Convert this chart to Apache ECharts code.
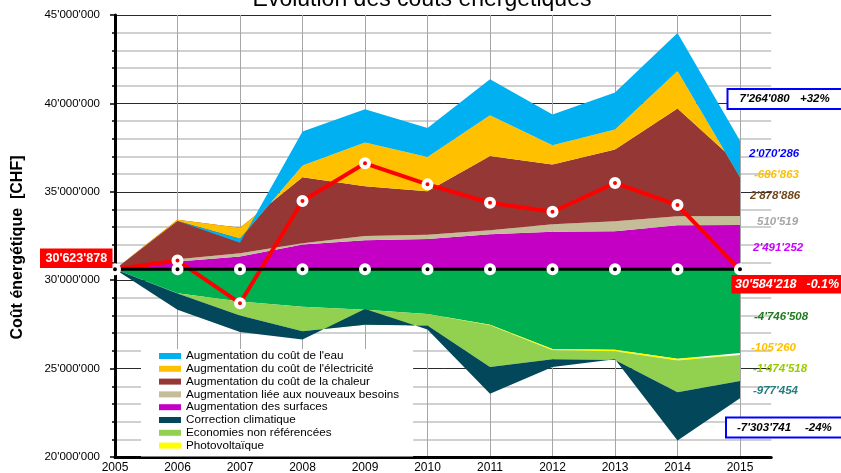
<!DOCTYPE html>
<html><head><meta charset="utf-8">
<script src="https://cdn.jsdelivr.net/npm/echarts@6/dist/echarts.min.js"></script>
<style>html,body{margin:0;padding:0;background:#fff}#c{width:841px;height:473px}</style>
</head><body><div id="c"></div>
<script>
// ---------- data (CHF) ----------
const years = [2005, 2006, 2007, 2008, 2009, 2010, 2011, 2012, 2013, 2014, 2015];
const baseline = 30623878;
const actualCost = [30623878, 31110000, 28700000, 34480000, 36610000, 35420000, 34380000, 33870000, 35500000, 34250000, 30584218];
// positive contributions (stacked above the 2005 baseline)
const surfaces    = [0, 430000, 710000, 1400000, 1640000, 1710000, 1970000, 2110000, 2150000, 2480000, 2491252];
const besoins     = [0, 130000, 190000, 70000, 240000, 230000, 230000, 430000, 560000, 510000, 510519];
const chaleur     = [0, 2240000, 1440000, 3730000, 2810000, 2470000, 4200000, 3380000, 4060000, 6100000, 2878886];
const electricite = [0, -70000, -620000, 660000, 2470000, 1940000, 2310000, 1090000, 1130000, 2120000, -686863];
const eau         = [0, -10000, -230000, 1920000, 1890000, 1640000, 2030000, 1740000, 2090000, 2150000, 2070286];
// negative contributions (stacked below the baseline)
const economies      = [0, -1360000, -1830000, -2120000, -2300000, -2530000, -3150000, -4510000, -4560000, -5070000, -4746508];
const photovoltaique = [0, 0, 0, 0, 0, 0, -20000, -80000, -80000, -100000, -105260];
const nonReferencees = [0, -10000, -790000, -1390000, -840000, -660000, -2370000, -510000, -500000, -1790000, -1474518];
const correction     = [0, -930000, -940000, -470000, 890000, -220000, -1510000, -440000, 40000, -2730000, -977454];
const yTickLabels = ["20'000'000", "25'000'000", "30'000'000", "35'000'000", "40'000'000", "45'000'000"];

const names = {
  eau: "Augmentation du coût de l'eau",
  elec: "Augmentation du coût de l'électricité",
  chal: "Augmentation du coût de la chaleur",
  bes: "Augmentation liée aux nouveaux besoins",
  surf: "Augmentation des surfaces",
  corr: "Correction climatique",
  nonref: "Economies non référencées",
  pv: "Photovoltaïque"
};

const FONT = '"Liberation Sans", Arial, sans-serif';
const Y_MIN = 20000000, Y_MAX = 45000000;
const baseArr = years.map(() => baseline);
const lastIdx = years.length - 1;

function area(name, arr, color, stack) {
  return {
    name, type: 'line', stack, stackStrategy: 'all', data: arr.slice(),
    xAxisIndex: 0, yAxisIndex: 0,
    symbol: 'none', showSymbol: false, silent: true, z: 2,
    color: color, itemStyle: { color: color },
    lineStyle: { width: 0, color: color }, areaStyle: { color: color, opacity: 1 }
  };
}

const chart = echarts.init(document.getElementById('c'), null, { renderer: 'canvas' });

const series = [
  { name: 'basePos', type: 'line', stack: 'pos', stackStrategy: 'all', data: baseArr.slice(),
    xAxisIndex: 0, yAxisIndex: 0, symbol: 'none', silent: true, lineStyle: { width: 0, opacity: 0 } },
  area(names.surf, surfaces, '#C400C4', 'pos'),
  area(names.bes, besoins, '#C4BD97', 'pos'),
  area(names.chal, chaleur, '#953735', 'pos'),
  area(names.elec, electricite, '#FFC000', 'pos'),
  area(names.eau, eau, '#00B0F0', 'pos'),
  area('Economies', economies, '#00B050', 'neg'),
  area(names.pv, photovoltaique, '#FFFF00', 'neg'),
  area(names.nonref, nonReferencees, '#92D050', 'neg'),
  area(names.corr, correction, '#02475A', 'neg'),
  { name: 'Coût réel', type: 'line', z: 4, silent: true, clip: false,
    xAxisIndex: 0, yAxisIndex: 0,
    data: actualCost.slice(),
    symbol: (val, params) => (params.dataIndex === 0 || params.dataIndex === lastIdx) ? 'none' : 'circle',
    symbolSize: 8, showSymbol: true, showAllSymbol: true,
    itemStyle: { color: '#FF0000', borderColor: '#fff', borderWidth: 4 },
    lineStyle: { width: 4, color: '#FF0000' } },
  { name: 'baseline', type: 'line', data: baseArr.slice(),
    xAxisIndex: 0, yAxisIndex: 0, clip: false,
    z: 5, silent: true, symbol: 'circle', symbolSize: 8, showSymbol: true, showAllSymbol: true,
    itemStyle: { color: '#000', borderColor: '#fff', borderWidth: 4 },
    lineStyle: { width: 3, color: '#000' } }
];
// the negative stack needs its own base at the 2005 cost level
series.splice(6, 0, { name: 'baseNeg', type: 'line', stack: 'neg', stackStrategy: 'all', data: baseArr.slice(),
  xAxisIndex: 0, yAxisIndex: 0, symbol: 'none', silent: true, lineStyle: { width: 0, opacity: 0 } });

function t(text, x, y, fill, font, align) {
  return { type: 'text', z: 100, style: { text, x, y, fill, font, textAlign: align || 'left', textVerticalAlign: 'middle' } };
}
function box(x, y, w, h, fill, stroke) {
  return { type: 'rect', z: 99, shape: { x, y, width: w, height: h },
    style: { fill, stroke: stroke || null, lineWidth: stroke ? 2 : 0 } };
}
const BI = (s) => 'italic bold ' + s + 'px "Liberation Sans", Arial, sans-serif';

const graphics = [
  t('Evolution des coûts énergétiques', 422, 0, '#000', '23px "Liberation Sans", Arial, sans-serif', 'center'),
  { type: 'text', z: 100, x: 17.5, y: 247.5, rotation: Math.PI / 2,
    style: { text: 'Coût énergétique  [CHF]', x: 0, y: 0, fill: '#000', font: 'bold 16px "Liberation Sans", Arial, sans-serif', textAlign: 'center', textVerticalAlign: 'middle' } },
  box(40, 248.5, 72.5, 19.5, '#FF0000'),
  t("30'623'878", 76.3, 258.5, '#fff', 'bold 12.5px "Liberation Sans", Arial, sans-serif', 'center'),
  box(727.5, 89, 120, 20, '#fff', '#0000FF'),
  t("7'264'080", 739.5, 99, '#000', BI(11.5)),
  t('+32%', 800, 99, '#000', BI(11.5)),
  t("2'070'286", 749, 154, '#0000FF', BI(11.5)),
  t("-686'863", 754, 175, '#FFC000', BI(11.5)),
  t("2'878'886", 750, 196, '#70451A', BI(11.5)),
  t("510'519", 757, 222, '#A6A6A6', BI(11.5)),
  t("2'491'252", 753, 248, '#CC00FF', BI(11.5)),
  box(731.5, 275, 115, 18.5, '#FF0000'),
  t("30'584'218", 735, 284.5, '#fff', BI(12.5)),
  t('-0.1%', 806.5, 284.5, '#fff', BI(12.5)),
  t("-4'746'508", 754, 317, '#1F7A1F', BI(11.5)),
  t("-105'260", 751, 348, '#FFC000', BI(11.5)),
  t("-1'474'518", 753, 369, '#99CC00', BI(11.5)),
  t("-977'454", 753, 390.5, '#267D7D', BI(11.5)),
  box(726, 417.5, 120, 20, '#fff', '#0000FF'),
  t("-7'303'741", 737, 428, '#000', BI(11.5)),
  t('-24%', 805, 428, '#000', BI(11.5))
];

chart.setOption({
  animation: false,
  backgroundColor: '#fff',
  textStyle: { fontFamily: FONT },
  grid: [
    // data grid: 2005 .. 2015
    { left: 115, right: 101, top: 15, bottom: 16, containLabel: false, outerBoundsMode: 'none' },
    // frame grid: 2005 .. 2015.5 (gridlines, axes, labels)
    { left: 115, right: 69.75, top: 15, bottom: 16, containLabel: false, outerBoundsMode: 'none' }
  ],
  legend: {
    orient: 'vertical', left: 141, top: 349,
    data: [names.eau, names.elec, names.chal, names.bes, names.surf, names.corr, names.nonref, names.pv],
    backgroundColor: '#fff', padding: [1, 14, 5, 18],
    itemWidth: 22, itemHeight: 6, itemGap: 0.8, icon: 'rect', selectedMode: false,
    textStyle: { fontFamily: FONT, fontSize: 11.7, color: '#000', lineHeight: 12 }
  },
  xAxis: [
    { gridIndex: 0, type: 'category', data: years, boundaryGap: false,
      axisLine: { show: false }, axisTick: { show: false }, axisLabel: { show: false }, splitLine: { show: false } },
    { gridIndex: 1, type: 'value', min: 2005, max: 2015.5, interval: 1,
      axisLine: { show: true, onZero: false, lineStyle: { color: '#000', width: 3 } },
      axisTick: { show: false },
      axisLabel: { formatter: v => Number.isInteger(v) ? String(v) : '', fontSize: 12, color: '#000', margin: 5, fontFamily: FONT },
      splitLine: { show: true, showMinLine: false, showMaxLine: false, lineStyle: { color: '#A6A6A6', width: 1 } } }
  ],
  yAxis: [
    { gridIndex: 0, type: 'value', min: Y_MIN, max: Y_MAX,
      axisLine: { show: false }, axisTick: { show: false }, axisLabel: { show: false }, splitLine: { show: false } },
    { gridIndex: 1, type: 'value', min: Y_MIN, max: Y_MAX, interval: 5000000,
      axisLine: { show: true, onZero: false, lineStyle: { color: '#000', width: 3 } },
      axisTick: { show: true, length: 5, lineStyle: { color: '#000', width: 1.5 } },
      minorTick: { show: true, splitNumber: 5, length: 3, lineStyle: { color: '#000', width: 1.5 } },
      axisLabel: { formatter: (v) => yTickLabels[Math.round((v - Y_MIN) / 5000000)] || '', fontSize: 11.5, color: '#000', margin: 15, fontFamily: FONT },
      splitLine: { show: true, lineStyle: { color: '#2a2a2a', width: 1 } },
      minorSplitLine: { show: true, lineStyle: { color: '#D0D0D0', width: 2 } } }
  ],
  series,
  graphic: graphics
});
</script></body></html>
